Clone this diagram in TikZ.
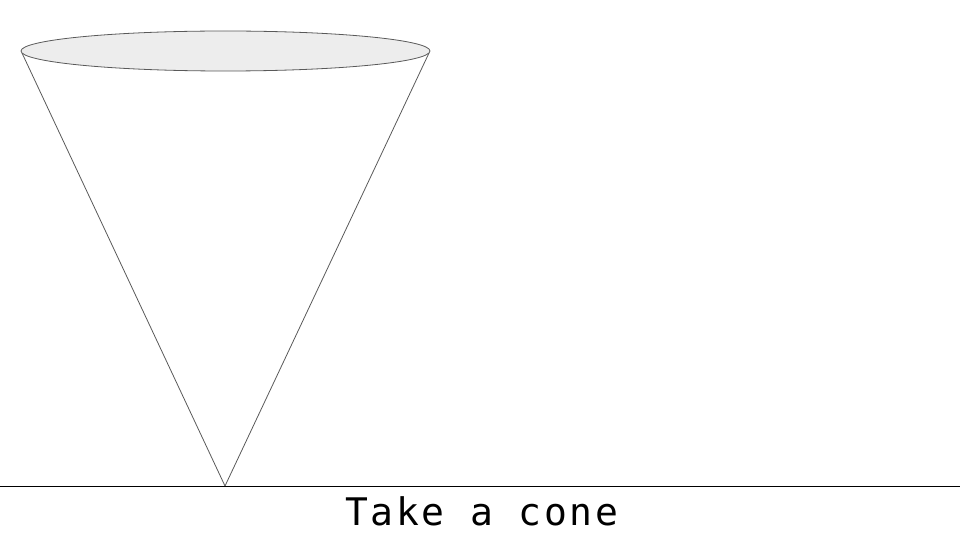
\documentclass[tikz,border=0pt]{standalone}
\usepackage{fontspec}
\setmonofont[LetterSpace=7]{DejaVu Sans Mono}
\begin{document}
\begin{tikzpicture}[x=1pt,y=-1pt,
  conel/.style={draw=black!65, line width=0.8pt},
  lbl/.style={font=\ttfamily\fontsize{38}{44}\selectfont, anchor=base}]
\useasboundingbox (0,0) rectangle (960,540);
\coordinate (apex) at (225,486);
\coordinate (lt) at (22,53);
\coordinate (rt) at (429,53);
\draw[conel] (lt) -- (apex) -- (rt);
\draw[conel, fill=black!7] (225.5,51) ellipse [x radius=204.5, y radius=20];
\coordinate (gl) at (0,486);
\coordinate (gr) at (960,486);
\draw[black, line width=0.9pt] (gl) -- (gr);
\node[lbl] (t) at (481.5,525) {Take a cone};
\end{tikzpicture}
\end{document}
